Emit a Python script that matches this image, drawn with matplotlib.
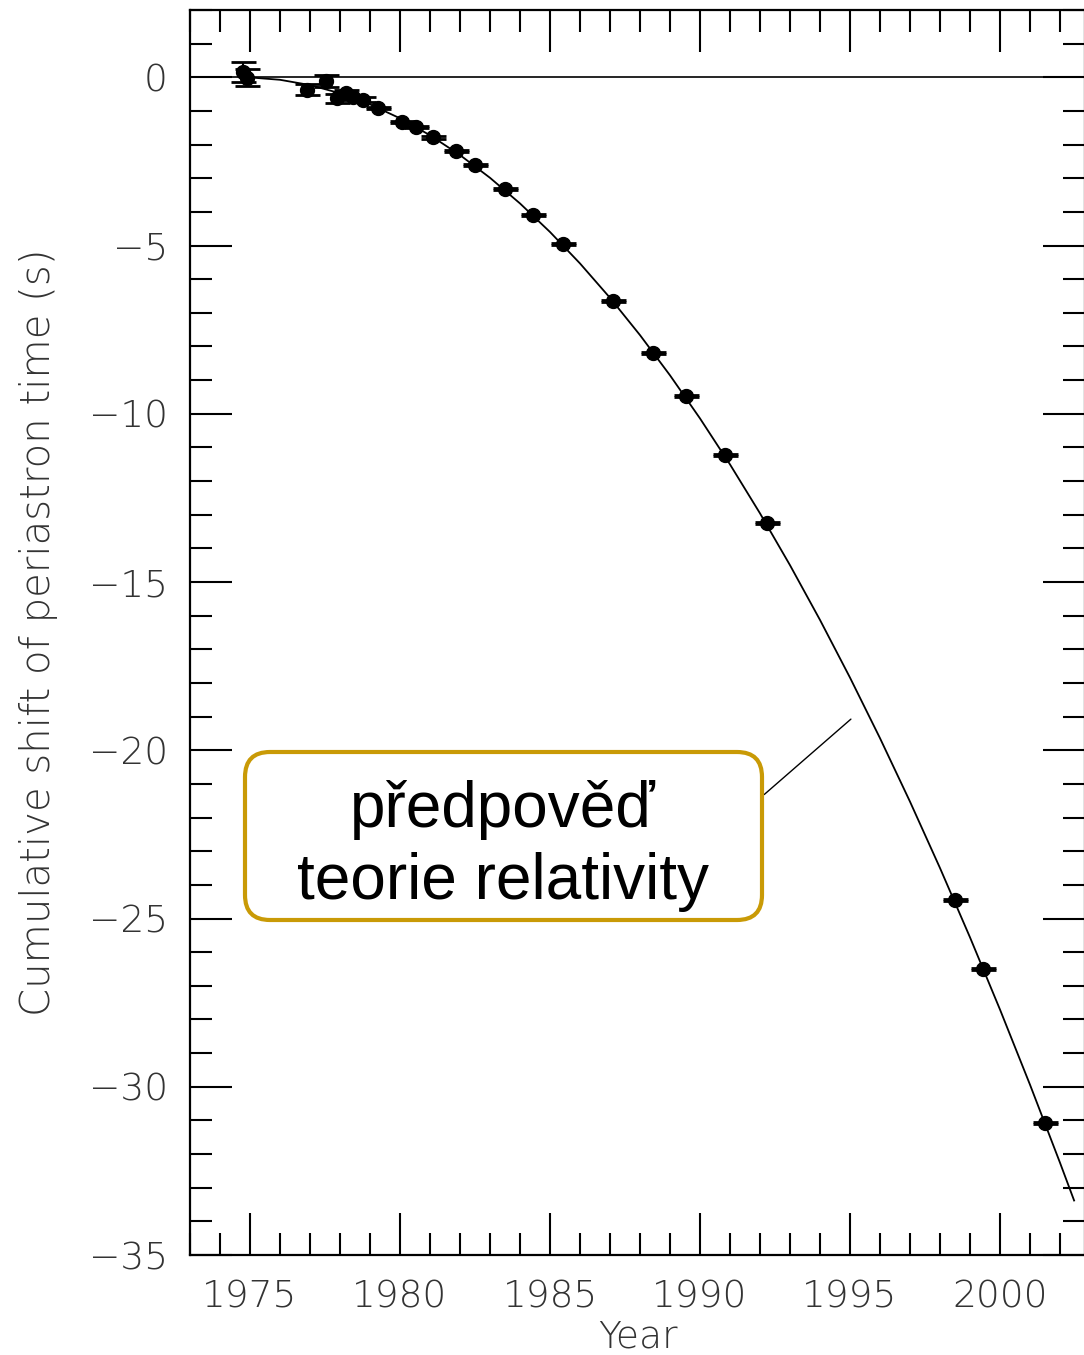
import matplotlib
matplotlib.use("Agg")
import matplotlib.pyplot as plt
from matplotlib.patches import FancyBboxPatch
from matplotlib.ticker import MultipleLocator, FixedLocator, FixedFormatter

# ---- data ----
obs_year = [1974.78, 1974.91, 1976.89, 1977.53, 1977.91, 1978.19, 1978.44, 1978.78,
            1979.28, 1980.08, 1980.53, 1981.11, 1981.86, 1982.50, 1983.50, 1984.44,
            1985.44, 1987.09, 1988.44, 1989.52, 1990.83, 1992.22, 1998.50, 1999.44,
            2001.50]
obs_shift = [0.16, -0.01, -0.37, -0.11, -0.63, -0.46, -0.60, -0.66,
             -0.91, -1.33, -1.48, -1.78, -2.19, -2.61, -3.32, -4.08,
             -4.95, -6.64, -8.18, -9.46, -11.23, -13.25, -24.46, -26.50,
             -31.09]
obs_err = [0.30, 0.25, 0.17, 0.18, 0.12, 0.08, 0.06, 0.06,
           0.04, 0.04, 0.04, 0.04, 0.03, 0.03, 0.03, 0.03,
           0.03, 0.03, 0.03, 0.03, 0.03, 0.03, 0.03, 0.03,
           0.03]

gr_year = [1974.7, 1975, 1976, 1977, 1978, 1979, 1980, 1981, 1982, 1983, 1984, 1985,
           1986, 1987, 1988, 1989, 1990, 1991, 1992, 1993, 1994, 1995, 1996, 1997,
           1998, 1999, 2000, 2001, 2002, 2002.47]
gr_shift = [0.0, -0.004, -0.074, -0.231, -0.474, -0.803, -1.219, -1.722, -2.311,
            -2.987, -3.749, -4.597, -5.532, -6.554, -7.662, -8.857, -10.138, -11.505,
            -12.959, -14.500, -16.127, -17.841, -19.641, -21.527, -23.500, -25.560,
            -27.706, -29.939, -32.258, -33.38]

x_major = [1975, 1980, 1985, 1990, 1995, 2000]
x_labels = ["1975", "1980", "1985", "1990", "1995", "2000"]
y_major = [0, -5, -10, -15, -20, -25, -30, -35]
y_labels = ["0", "\u22125", "\u221210", "\u221215", "\u221220", "\u221225", "\u221230", "\u221235"]

xlabel = "Year"
ylabel = "Cumulative shift of periastron time (s)"
note = "předpověď\nteorie relativity"

# ---- figure ----
W, H = 1084, 1355
fig = plt.figure(figsize=(W / 100, H / 100), dpi=100)
ax = fig.add_axes([190 / W, (H - 1255) / H, 895 / W, 1245 / H])

ax.set_xlim(1973, 1973 + 895 / 30)
ax.set_ylim(-35, 2.0)

tick_font = dict(family=["DejaVu Sans"], weight="light", size=27, color="#333333")
ylab_font = dict(tick_font, size=29)

ax.axhline(0, color="black", lw=1.2, zorder=1)
ax.plot(gr_year, gr_shift, color="black", lw=1.3, zorder=2)
ax.errorbar(obs_year, obs_shift, yerr=obs_err, fmt="o", color="black", ms=10,
            elinewidth=1.5, capsize=9, capthick=2, zorder=3)

ax.xaxis.set_major_locator(FixedLocator(x_major))
ax.xaxis.set_major_formatter(FixedFormatter(x_labels))
ax.xaxis.set_minor_locator(MultipleLocator(1))
ax.yaxis.set_major_locator(FixedLocator(y_major))
ax.yaxis.set_major_formatter(FixedFormatter(y_labels))
ax.yaxis.set_minor_locator(MultipleLocator(1))

ax.tick_params(which="both", direction="in", top=True, right=True, width=1.5, color="black")
ax.tick_params(which="major", length=30, pad=18)
ax.tick_params(which="minor", length=16)
for lab in ax.get_xticklabels() + ax.get_yticklabels():
    lab.set_fontfamily(tick_font["family"])
    lab.set_fontweight(tick_font["weight"])
    lab.set_fontsize(tick_font["size"])
    lab.set_color(tick_font["color"])
ax.tick_params(axis="y", pad=16)

for s in ax.spines.values():
    s.set_linewidth(1.6)

ax.set_xlabel(xlabel, fontdict=tick_font)
ax.set_ylabel(ylabel, fontdict=ylab_font)
ax.xaxis.set_label_coords(0.5, -0.052)
ax.yaxis.set_label_coords(-0.147, 0.5)

# annotation box (positions in inches on the figure)
box = FancyBboxPatch((2.45, (H - 920) / 100), 5.17, 1.68,
                     boxstyle="round,pad=0,rounding_size=0.25",
                     transform=fig.dpi_scale_trans, facecolor="white",
                     edgecolor="#C99A06", linewidth=3, zorder=5)
fig.patches.append(box)
fig.text(5.03 / (W / 100), (H - 846) / H, note, ha="center", va="center",
         fontsize=46, family=["Liberation Sans", "DejaVu Sans"], color="black",
         linespacing=1.27, zorder=6)

# leader line from box to curve
ax.annotate("", xy=(1995.1, -19.02), xytext=(1992.07, -21.37),
            arrowprops=dict(arrowstyle="-", color="black", lw=1.0))

fig.savefig("out.png", dpi=100)
